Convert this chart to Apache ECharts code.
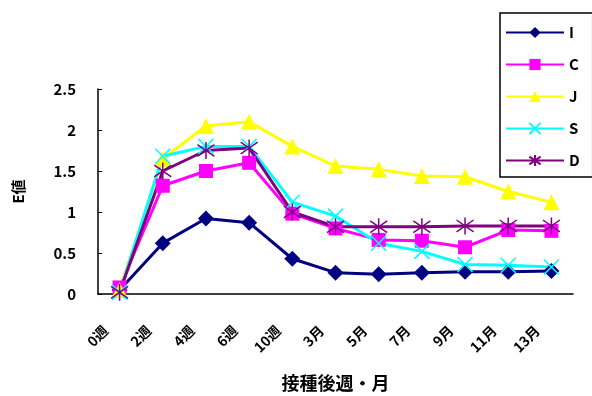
<!DOCTYPE html>
<html>
<head>
<meta charset="utf-8">
<script src="https://cdn.jsdelivr.net/npm/echarts@6/dist/echarts.min.js"></script>
<style>
  html, body { margin: 0; padding: 0; background: #fff; }
  #chart { width: 592px; height: 396px; }
</style>
</head>
<body>
<div id="chart"></div>
<script>
// 横軸カテゴリ
const categories = ["0週", "2週", "4週", "6週", "10週", "3月", "5月", "7月", "9月", "11月", "13月"];
const yTicks = [0, 0.5, 1, 1.5, 2, 2.5];

// 各系列の値
const valuesI = [0.05, 0.62, 0.92, 0.87, 0.43, 0.26, 0.24, 0.26, 0.27, 0.27, 0.28];
const valuesC = [0.08, 1.32, 1.5, 1.6, 0.98, 0.8, 0.66, 0.65, 0.57, 0.78, 0.77];
const valuesJ = [0.05, 1.65, 2.05, 2.1, 1.8, 1.56, 1.52, 1.44, 1.43, 1.25, 1.12];
const valuesS = [0.02, 1.68, 1.8, 1.8, 1.12, 0.95, 0.62, 0.52, 0.36, 0.35, 0.33];
const valuesD = [0.02, 1.5, 1.75, 1.78, 1.0, 0.82, 0.82, 0.82, 0.83, 0.83, 0.83];

const FONT = '"Noto Sans CJK JP", "DejaVu Sans", sans-serif';

const mkSeries = (name, data, color, symbol, size, extra) => ({
  name: name,
  type: "line",
  data: data,
  symbol: symbol,
  symbolSize: size,
  lineStyle: { color: color, width: 3 },
  itemStyle: Object.assign({ color: color }, extra || {}),
  emphasis: { disabled: true },
});

const chart = echarts.init(document.getElementById("chart"));
chart.setOption({
  animation: false,
  textStyle: { fontFamily: FONT },
  grid: { left: 98, right: 19, top: 89, bottom: 102, outerBoundsMode: "none", containLabel: false },
  legend: {
    orient: "vertical",
    left: 500,
    top: 13,
    padding: [12, 13, 9, 5],
    itemGap: 17,
    itemWidth: 58,
    itemHeight: 14,
    borderColor: "#000",
    borderWidth: 1.5,
    backgroundColor: "#fff",
    textStyle: { fontSize: 15, fontWeight: "bold", color: "#000", fontFamily: FONT },
    data: ["I", "C", "J", "S", "D"],
  },
  xAxis: {
    type: "category",
    data: categories,
    boundaryGap: true,
    name: "接種後週・月",
    nameLocation: "middle",
    nameGap: 80,
    nameMoveOverlap: false,
    nameTextStyle: { fontSize: 18, fontWeight: "bold", color: "#000", fontFamily: FONT },
    axisLine: { lineStyle: { color: "#000", width: 1.5 } },
    axisTick: { inside: true, length: 5, lineStyle: { color: "#000" } },
    axisLabel: {
      rotate: 45,
      margin: 20,
      padding: [0, 20, 0, 0],
      fontSize: 14,
      fontWeight: "bold",
      color: "#000",
      interval: 0,
      fontFamily: FONT,
    },
  },
  yAxis: {
    type: "value",
    min: 0,
    max: 2.5,
    interval: 0.5,
    name: "E値",
    nameLocation: "middle",
    nameRotate: 90,
    nameGap: 72,
    nameMoveOverlap: false,
    nameTextStyle: { fontSize: 15, fontWeight: "bold", color: "#000", fontFamily: FONT },
    axisLine: { show: true, lineStyle: { color: "#000", width: 1.5 } },
    axisTick: { show: true, inside: true, length: 4, lineStyle: { color: "#000" } },
    splitLine: { show: false },
    axisLabel: {
      margin: 22,
      fontSize: 15,
      fontWeight: "bold",
      color: "#000",
      formatter: (v) => (yTicks.includes(v) ? String(v) : ""),
    },
  },
  series: [
    mkSeries("I", valuesI, "#000080", "diamond", 16),
    mkSeries("C", valuesC, "#FF00FF", "rect", 14),
    mkSeries("J", valuesJ, "#FFFF00", "triangle", 16),
    mkSeries("S", valuesS, "#00FFFF", "path://M0,0L10,10M10,0L0,10", 15,
      { borderColor: "#00FFFF", borderWidth: 1.5 }),
    mkSeries("D", valuesD, "#800080", "path://M5,0L5,10M0,1.5L10,8.5M10,1.5L0,8.5", 17,
      { borderColor: "#800080", borderWidth: 1.5 }),
  ],
});
</script>
</body>
</html>
